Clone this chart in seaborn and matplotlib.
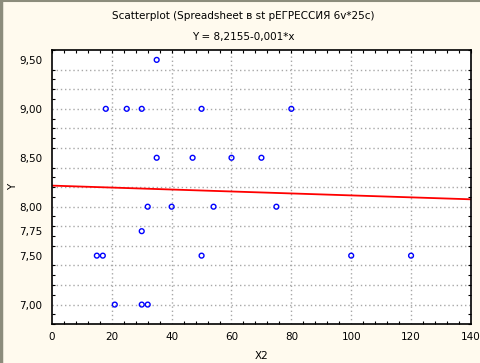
import matplotlib
matplotlib.use('Agg')
import matplotlib.pyplot as plt
import numpy as np
import pandas as pd
import seaborn as sns
from matplotlib.lines import Line2D

# data
x2 = [18, 25, 30, 35, 35, 47, 50, 60, 70, 80,
      32, 40, 54, 75, 30, 15, 17, 50, 100, 120,
      21, 30, 32]
y = [9.0, 9.0, 9.0, 9.5, 8.5, 8.5, 9.0, 8.5, 8.5, 9.0,
     8.0, 8.0, 8.0, 8.0, 7.75, 7.5, 7.5, 7.5, 7.5, 7.5,
     7.0, 7.0, 7.0]
intercept = 8.2155
slope = -0.001
ytick_values = [9.5, 9.0, 8.5, 8.0, 7.75, 7.5, 7.0]

BG = '#FFFAEE'

sns.set_style('white')
plt.rcParams['font.family'] = ['DejaVu Sans']
plt.rcParams.update({'text.color': 'black', 'axes.labelcolor': 'black',
                     'xtick.color': 'black', 'ytick.color': 'black'})

fig = plt.figure(figsize=(4.81, 3.63), dpi=100, facecolor=BG)
ax = fig.add_axes([0.108, 0.107, 0.871, 0.755])
ax.set_facecolor('white')

# grid
ax.set_xlim(0, 140)
ax.set_ylim(6.8, 9.6)
for gx in np.arange(20, 140, 20):
    ax.axvline(gx, color='#A8A8A8', lw=1, ls=(0, (1, 2)), zorder=0)
for gy in np.arange(7.0, 9.5, 0.2):
    ax.axhline(gy, color='#A8A8A8', lw=1, ls=(0, (1, 2)), zorder=0)

df = pd.DataFrame({'X2': x2, 'Y': y})
sns.scatterplot(data=df, x='X2', y='Y', ax=ax, marker='o', s=12,
                facecolor='none', edgecolor='#0000FF', linewidth=1.0, zorder=3)

line_x = np.linspace(0, 140, 50)
sns.lineplot(x=line_x, y=intercept + slope * line_x, ax=ax,
             color='#FF0000', lw=1.3, zorder=2)

ax.set_xticks(np.arange(0, 141, 20))
ax.set_xticks(np.arange(0, 141, 4), minor=True)
ax.set_yticks(ytick_values)
ax.set_yticklabels([f'{v:.2f}'.replace('.', ',') for v in ytick_values])
ax.set_yticks(np.arange(6.8, 9.61, 0.1), minor=True)
ax.tick_params(which='major', axis='y', length=0, labelsize=7.5, pad=7)
ax.tick_params(which='major', axis='x', direction='in', length=2.5, width=0.8,
               labelsize=7.5, pad=6, top=True)
ax.tick_params(which='minor', direction='in', length=2.5, width=0.8,
               left=True, right=True, top=True, bottom=True)
for s in ax.spines.values():
    s.set_visible(True)
    s.set_color('black')
    s.set_linewidth(1.2)

ax.set_xlabel('X2', fontsize=7.5, labelpad=6)
ax.set_ylabel('Y', fontsize=7.5)
ax.yaxis.set_label_coords(-0.08, 0.5)

fig.text(0.505, 0.955, 'Scatterplot (Spreadsheet в st рЕГРЕССИЯ 6v*25c)',
         ha='center', va='center', fontsize=7.5)
fig.text(0.505, 0.897, 'Y = 8,2155-0,001*x', ha='center', va='center', fontsize=7.5)

# window frame on left/top
fig.add_artist(Line2D([0.002, 0.002], [0, 1], color='#8C8C7C', lw=2.5,
                      transform=fig.transFigure))
fig.add_artist(Line2D([0, 1], [0.998, 0.998], color='#8C8C7C', lw=1.5,
                      transform=fig.transFigure))

fig.savefig('out.png', dpi=100, facecolor=BG)
